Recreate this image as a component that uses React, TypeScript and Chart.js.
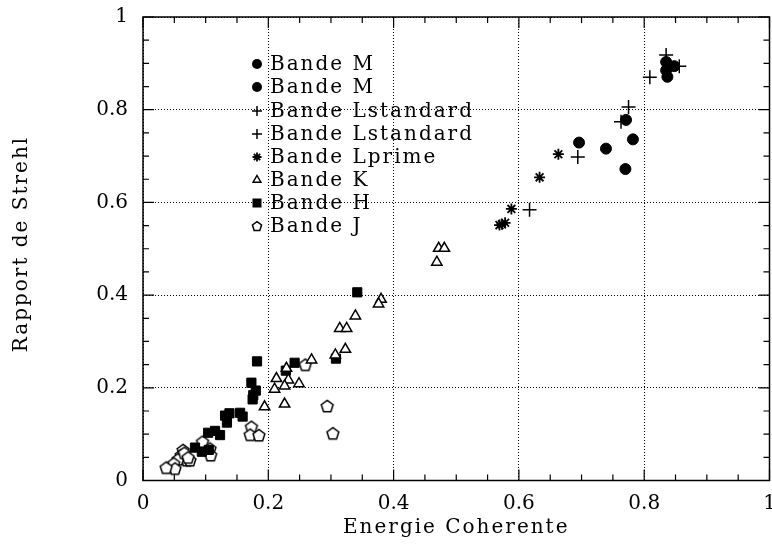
import React, { useEffect, useRef } from 'react';
import { Chart, registerables } from 'chart.js';

Chart.register(...registerables);

// ---- data ----
const xTickValues = [0, 0.2, 0.4, 0.6, 0.8, 1];
const yTickValues = [0, 0.2, 0.4, 0.6, 0.8, 1];
const xTitle = 'Energie Coherente';
const yTitle = 'Rapport de Strehl';
const seriesNames = [
  'Bande M',
  'Bande M',
  'Bande Lstandard',
  'Bande Lstandard',
  'Bande Lprime',
  'Bande K',
  'Bande H',
  'Bande J',
];

const bandeM1 = [
  [0.835, 0.903], [0.848, 0.894], [0.837, 0.871], [0.835, 0.885],
];
const bandeM2 = [
  [0.696, 0.729], [0.739, 0.716], [0.771, 0.778], [0.782, 0.736], [0.770, 0.672],
];
const bandeL1 = [
  [0.835, 0.918], [0.856, 0.894], [0.809, 0.870],
];
const bandeL2 = [
  [0.775, 0.806], [0.763, 0.774], [0.694, 0.698], [0.617, 0.584],
];
const bandeLprime = [
  [0.663, 0.704], [0.633, 0.654], [0.588, 0.586], [0.569, 0.551], [0.578, 0.556], [0.573, 0.553],
];
const bandeK = [
  [0.472, 0.501], [0.481, 0.501], [0.469, 0.471], [0.380, 0.391], [0.376, 0.381],
  [0.339, 0.355], [0.314, 0.328], [0.325, 0.328], [0.323, 0.283], [0.307, 0.271],
  [0.269, 0.260], [0.213, 0.220], [0.232, 0.217], [0.226, 0.204], [0.249, 0.209],
  [0.210, 0.197], [0.226, 0.165], [0.194, 0.159], [0.229, 0.242],
];
const bandeH = [
  [0.342, 0.406], [0.182, 0.257], [0.242, 0.254], [0.228, 0.237], [0.308, 0.263],
  [0.173, 0.211], [0.180, 0.194], [0.176, 0.184], [0.175, 0.175], [0.138, 0.145],
  [0.131, 0.140], [0.134, 0.125], [0.155, 0.146], [0.159, 0.138], [0.115, 0.107],
  [0.104, 0.103], [0.123, 0.098], [0.083, 0.071], [0.094, 0.062], [0.105, 0.066],
];
const bandeJ = [
  [0.294, 0.161], [0.303, 0.102], [0.259, 0.250], [0.173, 0.116], [0.171, 0.099],
  [0.185, 0.098], [0.095, 0.084], [0.107, 0.069], [0.108, 0.055], [0.064, 0.066],
  [0.061, 0.055], [0.070, 0.044], [0.075, 0.044], [0.056, 0.046], [0.049, 0.037],
  [0.051, 0.026], [0.037, 0.028], [0.066, 0.060], [0.072, 0.050],
];

// ---- styling ----
const FONT = '"DejaVu Serif", serif';
const W = 772;
const H = 546;
const CW = 778; // canvas slightly wider; the page clips the overflow like the reference

function makePentagon(r: number, lw: number): HTMLCanvasElement {
  const size = Math.ceil(2 * r + lw + 2);
  const c = document.createElement('canvas');
  c.width = size;
  c.height = size;
  const ctx = c.getContext('2d')!;
  const cx = size / 2;
  const cy = size / 2 + r * 0.1;
  ctx.beginPath();
  for (let i = 0; i < 5; i++) {
    const a = -Math.PI / 2 + (i * 2 * Math.PI) / 5;
    const px = cx + r * Math.cos(a);
    const py = cy + r * Math.sin(a);
    if (i === 0) ctx.moveTo(px, py);
    else ctx.lineTo(px, py);
  }
  ctx.closePath();
  ctx.fillStyle = '#fff';
  ctx.fill();
  ctx.lineWidth = lw;
  ctx.strokeStyle = '#000';
  ctx.stroke();
  return c;
}

type Marker = 'circle' | 'cross' | 'star' | 'triangle' | 'rect' | 'pentagon';
const legendMarkers: Marker[] = ['circle', 'circle', 'cross', 'cross', 'star', 'triangle', 'rect', 'pentagon'];

function drawLegendMarker(ctx: CanvasRenderingContext2D, m: Marker, x: number, y: number) {
  ctx.save();
  ctx.strokeStyle = '#000';
  ctx.fillStyle = '#000';
  ctx.lineWidth = 1.5;
  ctx.beginPath();
  if (m === 'circle') {
    ctx.arc(x, y, 5, 0, Math.PI * 2);
    ctx.fill();
  } else if (m === 'cross') {
    ctx.moveTo(x - 5, y); ctx.lineTo(x + 5, y);
    ctx.moveTo(x, y - 5); ctx.lineTo(x, y + 5);
    ctx.stroke();
  } else if (m === 'star') {
    for (let i = 0; i < 4; i++) {
      const a = (i * Math.PI) / 4;
      ctx.moveTo(x - 4.5 * Math.cos(a), y - 4.5 * Math.sin(a));
      ctx.lineTo(x + 4.5 * Math.cos(a), y + 4.5 * Math.sin(a));
    }
    ctx.lineWidth = 1.8;
    ctx.stroke();
  } else if (m === 'triangle') {
    const r = 4.5;
    ctx.moveTo(x, y - r);
    ctx.lineTo(x + r * 0.866, y + r * 0.5);
    ctx.lineTo(x - r * 0.866, y + r * 0.5);
    ctx.closePath();
    ctx.stroke();
  } else if (m === 'rect') {
    ctx.rect(x - 4.5, y - 4.5, 9, 9);
    ctx.fill();
  } else if (m === 'pentagon') {
    const r = 4.8;
    for (let i = 0; i < 5; i++) {
      const a = -Math.PI / 2 + (i * 2 * Math.PI) / 5;
      const px = x + r * Math.cos(a);
      const py = y + r * Math.sin(a) + 0.5;
      if (i === 0) ctx.moveTo(px, py);
      else ctx.lineTo(px, py);
    }
    ctx.closePath();
    ctx.stroke();
  }
  ctx.restore();
}

const framePlugin = {
  id: 'framePlugin',
  afterDraw(chart: any) {
    const ctx: CanvasRenderingContext2D = chart.ctx;
    const { left, right, top, bottom } = chart.chartArea;
    const xs = chart.scales.x;
    const ys = chart.scales.y;
    ctx.save();
    ctx.strokeStyle = '#000';
    ctx.lineWidth = 1.5;
    ctx.strokeRect(left, top, right - left, bottom - top);
    ctx.lineWidth = 1.2;
    ctx.beginPath();
    for (let i = 0; i <= 20; i++) {
      const v = i * 0.05;
      const len = i % 4 === 0 ? 11 : 6;
      const px = xs.getPixelForValue(v);
      ctx.moveTo(px, bottom); ctx.lineTo(px, bottom - len);
      ctx.moveTo(px, top); ctx.lineTo(px, top + len);
      const py = ys.getPixelForValue(v);
      ctx.moveTo(left, py); ctx.lineTo(left + len, py);
      ctx.moveTo(right, py); ctx.lineTo(right - len, py);
    }
    ctx.stroke();

    // titles
    ctx.fillStyle = '#000';
    ctx.font = `20px ${FONT}`;
    (ctx as any).letterSpacing = '2px';
    ctx.textAlign = 'center';
    ctx.textBaseline = 'middle';
    ctx.fillText(xTitle, (left + right) / 2, 528);
    ctx.save();
    ctx.translate(22, 244);
    ctx.rotate(-Math.PI / 2);
    ctx.fillText(yTitle, 0, 0);
    ctx.restore();

    // legend
    const rowY = [64, 87, 111, 134, 157, 180, 203, 226];
    ctx.textAlign = 'left';
    seriesNames.forEach((name, i) => {
      drawLegendMarker(ctx, legendMarkers[i], 257, rowY[i]);
      ctx.fillStyle = '#000';
      ctx.fillText(name, 270, rowY[i] + 1);
    });
    ctx.restore();
  },
};

export default function App() {
  const ref = useRef<HTMLCanvasElement | null>(null);

  useEffect(() => {
    if (!ref.current) return;
    const pent = makePentagon(6.2, 1.5);
    const toPts = (arr: number[][]) => arr.map(([x, y]) => ({ x, y }));
    const base = { showLine: false, borderColor: '#000' };
    const chart = new Chart(ref.current, {
      type: 'scatter',
      data: {
        datasets: [
          { ...base, label: seriesNames[0], data: toPts(bandeM1), pointStyle: 'circle', pointRadius: 5.5, backgroundColor: '#000', pointBorderWidth: 1 },
          { ...base, label: seriesNames[1], data: toPts(bandeM2), pointStyle: 'circle', pointRadius: 5.5, backgroundColor: '#000', pointBorderWidth: 1 },
          { ...base, label: seriesNames[2], data: toPts(bandeL1), pointStyle: 'cross', pointRadius: 7, backgroundColor: '#000', pointBorderWidth: 1.5 },
          { ...base, label: seriesNames[3], data: toPts(bandeL2), pointStyle: 'cross', pointRadius: 7, backgroundColor: '#000', pointBorderWidth: 1.5 },
          { ...base, label: seriesNames[4], data: toPts(bandeLprime), pointStyle: 'star', pointRadius: 5.5, backgroundColor: '#000', pointBorderWidth: 1.8 },
          { ...base, label: seriesNames[5], data: toPts(bandeK), pointStyle: 'triangle', pointRadius: 6, backgroundColor: '#fff', pointBorderWidth: 1.5 },
          { ...base, label: seriesNames[6], data: toPts(bandeH), pointStyle: 'rect', pointRadius: 6.5, backgroundColor: '#000', pointBorderWidth: 1 },
          { ...base, label: seriesNames[7], data: toPts(bandeJ), pointStyle: pent as any, pointRadius: 6, backgroundColor: '#fff', pointBorderWidth: 1.5 },
        ] as any,
      },
      options: {
        animation: false,
        responsive: false,
        events: [],
        layout: { padding: { top: 17, right: 0, left: 0, bottom: 0 } },
        plugins: {
          legend: { display: false },
          tooltip: { enabled: false },
          title: { display: false },
        },
        scales: {
          x: {
            type: 'linear',
            min: 0,
            max: 1,
            afterBuildTicks: (s: any) => { s.ticks = xTickValues.map((v) => ({ value: v })); },
            afterFit: (s: any) => { s.height = H - 480.5; s.paddingLeft = 0; s.paddingRight = 0; },
            ticks: {
              font: { family: FONT, size: 20 },
              color: '#000',
              padding: 11,
              maxRotation: 0,
              autoSkip: false,
              callback: (v: any) => String(+(+v).toFixed(1)),
            },
            grid: { color: '#000', lineWidth: 1, drawTicks: false },
            border: { display: false, dash: [1, 2] },
          },
          y: {
            type: 'linear',
            min: 0,
            max: 1,
            afterBuildTicks: (s: any) => { s.ticks = yTickValues.map((v) => ({ value: v })); },
            afterFit: (s: any) => { s.width = 143; s.paddingTop = 0; s.paddingBottom = 0; },
            ticks: {
              font: { family: FONT, size: 20 },
              color: '#000',
              padding: 15,
              autoSkip: false,
              callback: (v: any) => String(+(+v).toFixed(1)),
            },
            grid: { color: '#000', lineWidth: 1, drawTicks: false },
            border: { display: false, dash: [1, 2] },
          },
        },
      } as any,
      plugins: [framePlugin],
    });
    return () => chart.destroy();
  }, []);

  return (
    <div style={{ position: 'fixed', left: 0, top: 0, width: W, height: H, overflow: 'hidden', background: '#fff' }}>
      <canvas ref={ref} width={CW} height={H} style={{ width: CW, height: H, display: 'block' }} />
    </div>
  );
}
